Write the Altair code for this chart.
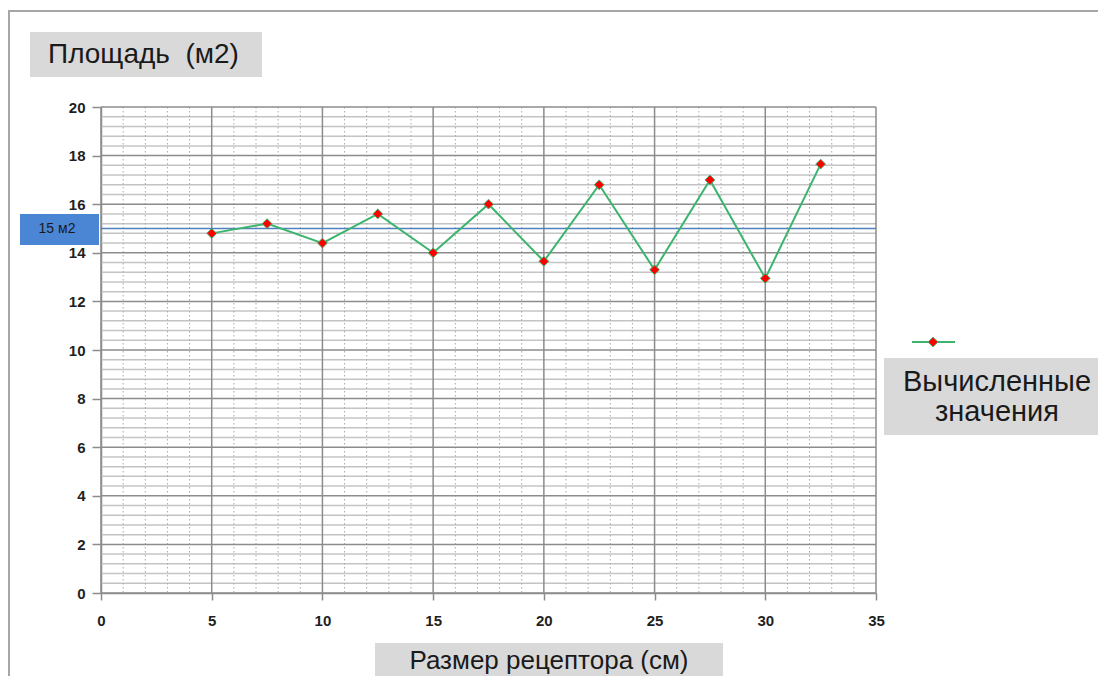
import altair as alt
import pandas as pd

# ---- data ----
x_vals = [5, 7.5, 10, 12.5, 15, 17.5, 20, 22.5, 25, 27.5, 30, 32.5]
y_vals = [14.8, 15.2, 14.4, 15.6, 14.0, 16.0, 13.65, 16.8, 13.3, 17.0, 12.95, 17.65]
x_ticks = [0, 5, 10, 15, 20, 25, 30, 35]
y_ticks = [0, 2, 4, 6, 8, 10, 12, 14, 16, 18, 20]
x_minor = [v for v in range(1, 35) if v % 5 != 0]
y_minor = [round(i * 0.4, 1) for i in range(1, 50) if i % 5 != 0]
target_value = 15
target_label = "15 м2"
title_text = "Площадь\u00a0 (м2)"
x_title_text = "Размер рецептора (см)"
legend_text = "Вычисленные\nзначения"

W, H = 775, 486
FONT = "Liberation Sans, Arial, sans-serif"
GREEN = "#3cb46e"
GRID_MAJOR = "#8c8c8c"
GRID_MINOR = "#c4c4c4"
BOX = "#d9d9d9"

xscale = alt.Scale(domain=[0, 35], nice=False, zero=False)
yscale = alt.Scale(domain=[0, 20], nice=False)

x_axis = alt.Axis(values=x_ticks, grid=False, title=None, domainColor=GRID_MAJOR,
                  domainWidth=1.5, tickColor=GRID_MAJOR, tickWidth=1.5, tickSize=7,
                  labelFont=FONT, labelFontSize=15, labelFontWeight="bold",
                  labelColor="#1f1f1f", labelPadding=13, labelFlush=False)
y_axis = alt.Axis(values=y_ticks, grid=False, title=None, domainColor=GRID_MAJOR,
                  domainWidth=1.5, tickColor=GRID_MAJOR, tickWidth=1.5, tickSize=9,
                  labelFont=FONT, labelFontSize=15, labelFontWeight="bold",
                  labelColor="#1f1f1f", labelPadding=7, labelFlush=False)


def X(field):
    return alt.X(field, type="quantitative", scale=xscale, axis=x_axis)


def Y(field):
    return alt.Y(field, type="quantitative", scale=yscale, axis=y_axis)


df = pd.DataFrame({"x": x_vals, "y": y_vals})

minor_h = alt.Chart(pd.DataFrame({"y": y_minor})).mark_rule(
    color=GRID_MINOR, strokeWidth=1.5).encode(y=Y("y"))
minor_v = alt.Chart(pd.DataFrame({"x": x_minor})).mark_rule(
    color="#a8a8a8", strokeWidth=1, strokeDash=[1.5, 2.5]).encode(x=X("x"))
major_h = alt.Chart(pd.DataFrame({"y": y_ticks})).mark_rule(
    color=GRID_MAJOR, strokeWidth=1.5).encode(y=Y("y"))
major_v = alt.Chart(pd.DataFrame({"x": x_ticks})).mark_rule(
    color=GRID_MAJOR, strokeWidth=1.5).encode(x=X("x"))

target = alt.Chart(pd.DataFrame({"y": [target_value]})).mark_rule(
    color="#4f81bd", strokeWidth=1.5).encode(y=Y("y"))

line = alt.Chart(df).mark_line(color=GREEN, strokeWidth=2).encode(x=X("x"), y=Y("y"))
points = alt.Chart(df).mark_point(shape="diamond", filled=True, fill="#ff0000",
                                  stroke=GREEN, strokeWidth=1, size=95, opacity=1).encode(
    x=X("x"), y=Y("y"))

one = pd.DataFrame({"t": [0]})

# frame lines (Excel chart border)
frame_top = alt.Chart(one).mark_rule(color="#a6a6a6", strokeWidth=2).encode(
    x=alt.value(-93), x2=alt.value(997), y=alt.value(-96))
frame_left = alt.Chart(one).mark_rule(color="#a6a6a6", strokeWidth=2).encode(
    x=alt.value(-92), y=alt.value(-96), y2=alt.value(580))

# title box
title_box = alt.Chart(one).mark_rect(color=BOX).encode(
    x=alt.value(-71), x2=alt.value(161), y=alt.value(-75), y2=alt.value(-30))
title_txt = alt.Chart(pd.DataFrame({"t": [title_text]})).mark_text(
    align="left", baseline="middle", font=FONT, fontSize=28, color="#1a1a1a").encode(
    x=alt.value(-53), y=alt.value(-52), text="t:N")

# target label box
tgt_box = alt.Chart(one).mark_rect(color="#4a86d4").encode(
    x=alt.value(-81), x2=alt.value(-2), y=alt.value(107), y2=alt.value(138))
tgt_txt = alt.Chart(pd.DataFrame({"t": [target_label]})).mark_text(
    align="center", baseline="middle", font=FONT, fontSize=14, color="#1a1a1a").encode(
    x=alt.value(-44), y=alt.value(122), text="t:N")

# legend
leg_line = alt.Chart(one).mark_rule(color=GREEN, strokeWidth=2).encode(
    x=alt.value(811), x2=alt.value(854), y=alt.value(235))
leg_pt = alt.Chart(one).mark_point(shape="diamond", filled=True, fill="#ff0000",
                                   stroke=GREEN, strokeWidth=1, size=95, opacity=1).encode(
    x=alt.value(832), y=alt.value(235))
leg_box = alt.Chart(one).mark_rect(color=BOX).encode(
    x=alt.value(783), x2=alt.value(1004), y=alt.value(251), y2=alt.value(328))
leg_txt = alt.Chart(pd.DataFrame({"t": [legend_text]})).mark_text(
    align="center", baseline="middle", font=FONT, fontSize=29, color="#1a1a1a",
    lineBreak="\n", lineHeight=30).encode(
    x=alt.value(896), y=alt.value(275), text="t:N")

# x axis title box
xt_box = alt.Chart(one).mark_rect(color=BOX).encode(
    x=alt.value(274), x2=alt.value(622), y=alt.value(536), y2=alt.value(585))
xt_txt = alt.Chart(pd.DataFrame({"t": [x_title_text]})).mark_text(
    align="center", baseline="middle", font=FONT, fontSize=26, color="#1a1a1a").encode(
    x=alt.value(448), y=alt.value(554), text="t:N")

chart = alt.layer(
    minor_h, minor_v, major_h, major_v, target, line, points,
    frame_top, frame_left, title_box, title_txt, tgt_box, tgt_txt,
    leg_line, leg_pt, leg_box, leg_txt, xt_box, xt_txt,
).properties(
    width=W, height=H,
    padding={"left": 93, "top": 99, "right": 222, "bottom": 83},
    autosize=alt.AutoSizeParams(type="none"),
    background="white",
).configure_view(stroke=None)

chart.save("out.html", embed_options={"renderer": "svg", "actions": False})
